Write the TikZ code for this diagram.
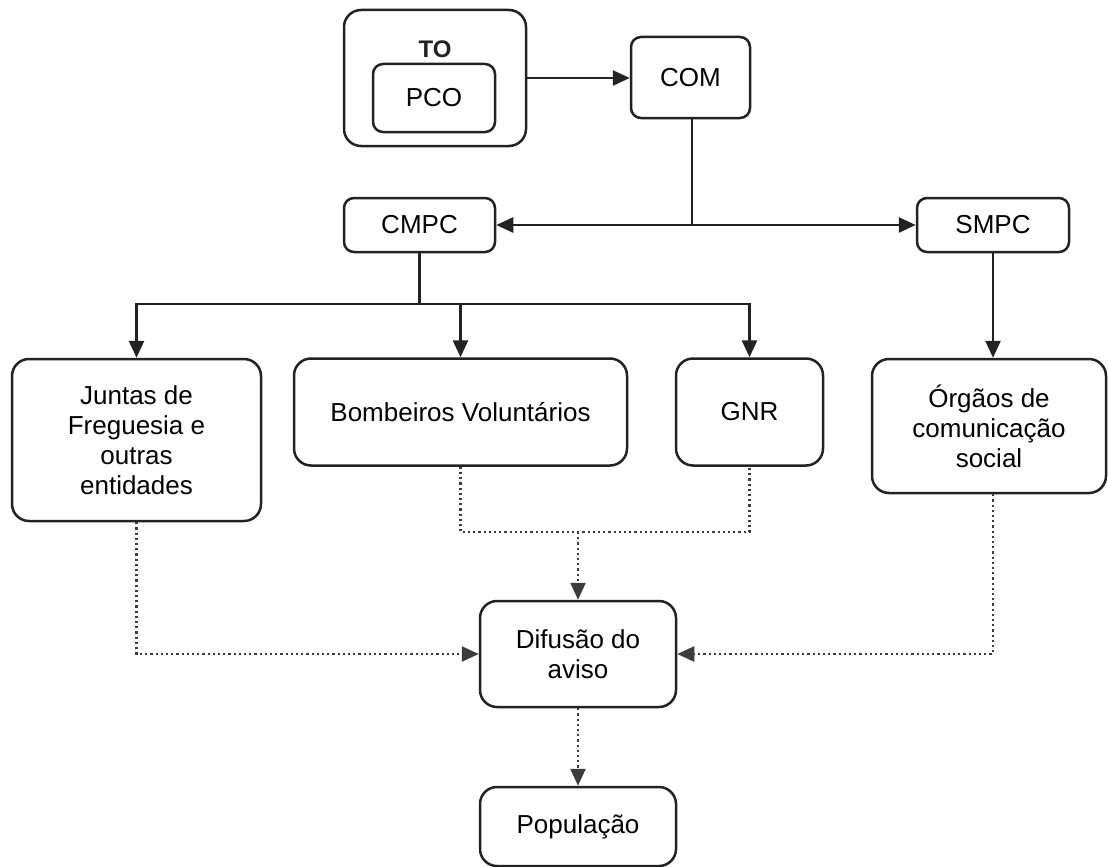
\documentclass[tikz,border=0pt]{standalone}
\usepackage{fontspec}
\setmainfont{Liberation Sans}
\usetikzlibrary{arrows.meta}
\definecolor{edge}{HTML}{222222}
\definecolor{dotc}{HTML}{3C3C3C}
\tikzset{
  box/.style={draw=edge, line width=2.5pt, rounded corners=17pt, align=center,
    inner sep=0pt, fill=white, font=\fontsize{26}{30}\selectfont},
  smallbox/.style={box, rounded corners=10pt},
  solidline/.style={draw=edge, line width=2.8pt},
  dotline/.style={draw=dotc, line width=2.4pt, dash pattern=on 2.2pt off 3pt},
  tip/.style={-{Triangle[length=17pt,width=15pt]}},
}
\begin{document}
\begin{tikzpicture}[x=1pt,y=-1pt]
\useasboundingbox (0,0) rectangle (1108,867);
% top group
\node[box, minimum width=182pt, minimum height=136pt] (to) at (435,78) {};
\node[font=\fontsize{24}{28}\selectfont\bfseries, text=edge] (tolabel) at (435,49) {TO};
\node[smallbox, minimum width=122pt, minimum height=68pt] (pco) at (434,98) {PCO};
\node[smallbox, minimum width=119pt, minimum height=81pt] (com) at (690.5,77.5) {COM};
\node[smallbox, minimum width=151pt, minimum height=54pt] (cmpc) at (419.5,225) {CMPC};
\node[smallbox, minimum width=152pt, minimum height=54pt] (smpc) at (993,225) {SMPC};
% second row
\node[box, minimum width=249pt, minimum height=162pt] (juntas) at (136.5,440) {Juntas de\\Freguesia e\\outras\\entidades};
\node[box, minimum width=333pt, minimum height=107pt] (bomb) at (460.5,412) {Bombeiros Voluntários};
\node[box, minimum width=147pt, minimum height=107pt] (gnr) at (749.5,412) {GNR};
\node[box, minimum width=234pt, minimum height=134pt] (org) at (989,426) {Órgãos de\\comunicação\\social};
% bottom
\node[box, minimum width=196pt, minimum height=106pt] (dif) at (578,654) {Difusão do\\aviso};
\node[box, minimum width=196pt, minimum height=79pt] (pop) at (578,826.5) {População};
% solid connectors
\draw[solidline, tip] (to.east) -- (to.east -| com.west);
\coordinate (j1) at (692,225);
\draw[solidline] (692,0 |- com.south) -- (j1);
\draw[solidline, tip] (j1) -- (cmpc.east);
\draw[solidline, tip] (j1) -- (smpc.west);
\coordinate (b) at (419.5,304);
\draw[solidline] (cmpc.south) -- (b);
\draw[solidline, tip] (b) -| (juntas.north);
\draw[solidline, tip] (b) -| (bomb.north);
\draw[solidline, tip] (b) -| (gnr.north);
\draw[solidline, tip] (smpc.south) -- (smpc.south |- org.north);
% dotted connectors
\coordinate (m) at (578,532);
\draw[dotline] (bomb.south) |- (gnr.south |- m) -- (gnr.south);
\draw[dotline, tip] (m) -- (dif.north);
\draw[dotline, tip] (juntas.south) |- (dif.west);
\draw[dotline, tip] (smpc.south |- org.south) |- (dif.east);
\draw[dotline, tip] (dif.south) -- (pop.north);
\end{tikzpicture}
\end{document}
